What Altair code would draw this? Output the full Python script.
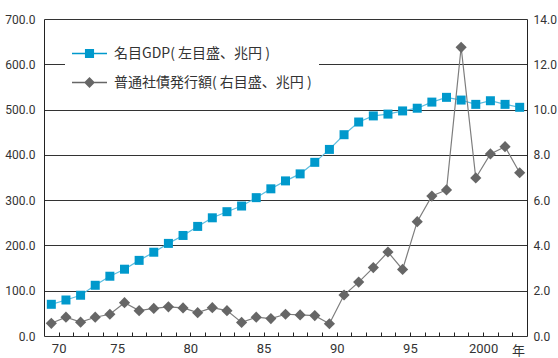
import altair as alt
import pandas as pd

years = list(range(1970, 2003))
gdp = [70, 79.5, 90, 112, 132, 147.5, 167, 185, 204.5, 222, 242, 261, 274.5, 287,
       305.5, 325, 342.5, 358, 383.5, 412, 444.5, 472.5, 486, 490, 497, 503, 516.5,
       527, 521, 511.5, 519.5, 511.5, 505]
bonds = [0.56, 0.83, 0.61, 0.83, 0.96, 1.47, 1.12, 1.22, 1.29, 1.24, 1.03, 1.25,
         1.12, 0.6, 0.83, 0.77, 0.96, 0.93, 0.9, 0.54, 1.81, 2.38, 3.02, 3.71, 2.94,
         5.05, 6.18, 6.45, 12.75, 6.98, 8.04, 8.36, 7.21]
series = ["名目GDP( 左目盛、兆円 )", "普通社債発行額( 右目盛、兆円 )"]
left_ticks = [0, 100, 200, 300, 400, 500, 600, 700]
right_ticks = [0, 2, 4, 6, 8, 10, 12, 14]

df = pd.DataFrame({"year": years, "gdp": gdp, "bonds": bonds})
leg_df = pd.DataFrame({"series": series})

tick_vals = [y + 0.5 for y in years[:-1]]
label_expr = ("datum.value == 1970.5 ? '70' : ((datum.value + 0.5) % 5 == 0 ? "
              "((datum.value + 0.5) >= 2000 ? format(datum.value + 0.5, 'd') : "
              "format(datum.value + 0.5 - 1900, 'd')) : '')")

NUM_FONT = "Roboto"
CJK_FONT = "Noto Sans CJK JP"
GDP_C = "#0099CC"
GDP_LINE = "#5BBDE0"
BOND_C = "#666666"
BOND_LINE = "#7d7d7d"

x_axis = alt.Axis(values=tick_vals, labelExpr=label_expr, offset=-4, domain=False,
                  ticks=True, tickSize=4, tickColor="#222", grid=False,
                  labelPadding=6, labelFont=NUM_FONT, labelFontSize=13,
                  labelColor="#333", labelOverlap=False, labelFlush=False,
                  title="年", titleX=474, titleY=18, titleAngle=0,
                  titleAlign="center", titleBaseline="middle", titleFont=CJK_FONT,
                  titleFontSize=13, titleFontWeight="normal", titleColor="#333")
x_scale = alt.Scale(domain=[1969.5, 2002.5], nice=False, zero=False)
X = alt.X("year:Q", scale=x_scale, axis=x_axis)

left_axis = alt.Axis(values=left_ticks, format=".1f", title=None, grid=True,
                     gridColor="#333", gridWidth=1, gridOpacity=1,
                     domain=True, domainColor="#222", ticks=False,
                     labelPadding=9, labelFont=NUM_FONT, labelFontSize=12,
                     labelColor="#333")
right_axis = alt.Axis(values=right_ticks, format=".1f", title=None, grid=False,
                      orient="right", domain=True, domainColor="#222", ticks=False,
                      labelPadding=6, labelFont=NUM_FONT, labelFontSize=12,
                      labelColor="#333")
YL = alt.Y("gdp:Q", scale=alt.Scale(domain=[0, 700], nice=False), axis=left_axis)
YR = alt.Y("bonds:Q", scale=alt.Scale(domain=[0, 14], nice=False), axis=right_axis)

base = alt.Chart(df)
gdp_line = base.mark_line(color=GDP_LINE, strokeWidth=1.2).encode(x=X, y=YL)
gdp_pts = base.mark_point(shape="square", filled=True, size=81, opacity=1,
                          color=GDP_C).encode(x=X, y=YL)
bond_line = base.mark_line(color=BOND_LINE, strokeWidth=1.2).encode(x=X, y=YR)
bond_pts = base.mark_point(shape="diamond", filled=True, size=125, opacity=1,
                           color=BOND_C).encode(x=X, y=YR)

sq_path = "M-1,-0.04H1V0.04H-1Z M-0.26,-0.26H0.26V0.26H-0.26Z"
di_path = "M-1,-0.04H1V0.04H-1Z M0,-0.31L0.31,0L0,0.31L-0.31,0Z"
legend = alt.Legend(orient="none", legendX=21, legendY=10, title=None,
                    fillColor="white", padding=7, symbolSize=1225,
                    symbolStrokeWidth=0, labelFont=CJK_FONT, labelFontSize=14,
                    labelColor="#333", labelOffset=7, rowPadding=4, labelLimit=0)
legend_layer = alt.Chart(leg_df).mark_point(filled=True, opacity=1, size=1225).encode(
    color=alt.Color("series:N", scale=alt.Scale(domain=series, range=[GDP_C, BOND_C]),
                    legend=legend),
    shape=alt.Shape("series:N", scale=alt.Scale(domain=series, range=[sq_path, di_path]),
                    legend=legend),
).transform_filter("false")

left = alt.layer(gdp_line, gdp_pts, legend_layer)
right = alt.layer(bond_line, bond_pts)

chart = alt.layer(left, right).resolve_scale(y="independent").properties(
    width=483, height=317,
    autosize=alt.AutoSizeParams(type="none"),
    padding={"left": 44, "top": 19, "right": 31, "bottom": 22},
    background="white",
).configure_view(stroke=None)

chart.save("out.html", embed_options={"renderer": "svg", "actions": False})
